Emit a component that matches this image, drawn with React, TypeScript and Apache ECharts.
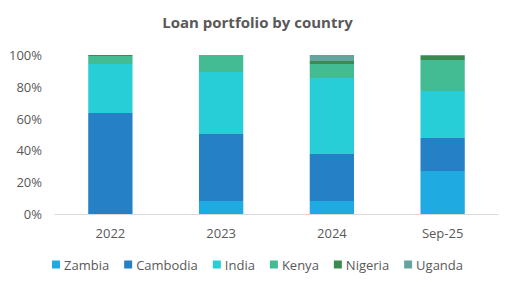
import React, { useEffect, useRef } from "react";
import * as echarts from "echarts";

const categories = ["2022", "2023", "2024", "Sep-25"];
const zambia = [0, 8.2, 8.2, 27.0];
const cambodia = [63.5, 42.1, 29.5, 20.8];
const india = [30.8, 39.0, 47.8, 29.6];
const kenya = [5.1, 10.7, 8.8, 19.5];
const nigeria = [0.6, 0, 1.9, 2.5];
const uganda = [0, 0, 3.8, 0.6];
const seriesNames = ["Zambia", "Cambodia", "India", "Kenya", "Nigeria", "Uganda"];
const seriesData = [zambia, cambodia, india, kenya, nigeria, uganda];
const colors = ["#1FAAE2", "#2580C6", "#27CDD7", "#43BC94", "#3B8A50", "#64A49F"];
const yTicks = [0, 20, 40, 60, 80, 100];

export default function App() {
  const ref = useRef<HTMLDivElement>(null);
  useEffect(() => {
    if (!ref.current) return;
    const chart = echarts.init(ref.current, null, { renderer: "svg" });
    const font = "'Open Sans', 'Liberation Sans', sans-serif";
    chart.setOption({
      animation: false,
      color: colors,
      title: {
        text: "Loan portfolio by country",
        left: "center",
        top: 9,
        textStyle: { fontSize: 15, fontWeight: "bold", color: "#595959", fontFamily: font },
      },
      grid: { left: 55, right: 17, top: 55, bottom: 73 },
      legend: {
        bottom: 11,
        left: "center",
        itemWidth: 8,
        itemHeight: 8,
        itemGap: 15,
        icon: "rect",
        textStyle: { fontSize: 13, color: "#595959", fontFamily: font, padding: [0, 0, 0, -1] },
        data: seriesNames,
      },
      xAxis: {
        type: "category",
        data: categories,
        axisLine: { lineStyle: { color: "#D9D9D9", width: 1 } },
        axisTick: { show: false },
        axisLabel: { fontSize: 13, color: "#595959", fontFamily: font, margin: 12 },
      },
      yAxis: {
        type: "value",
        min: yTicks[0],
        max: yTicks[yTicks.length - 1],
        interval: 20,
        splitLine: { show: false },
        axisLine: { show: false },
        axisTick: { show: false },
        axisLabel: {
          fontSize: 13,
          color: "#595959",
          fontFamily: font,
          margin: 13,
          formatter: (v: number) => `${v}%`,
        },
      },
      series: seriesNames.map((name, i) => ({
        name,
        type: "bar",
        stack: "total",
        barWidth: "40%",
        data: seriesData[i],
        itemStyle: { color: colors[i] },
      })),
    });
    return () => chart.dispose();
  }, []);
  return <div ref={ref} style={{ width: 515, height: 287, position: "absolute", left: 0, top: 0 }} />;
}
